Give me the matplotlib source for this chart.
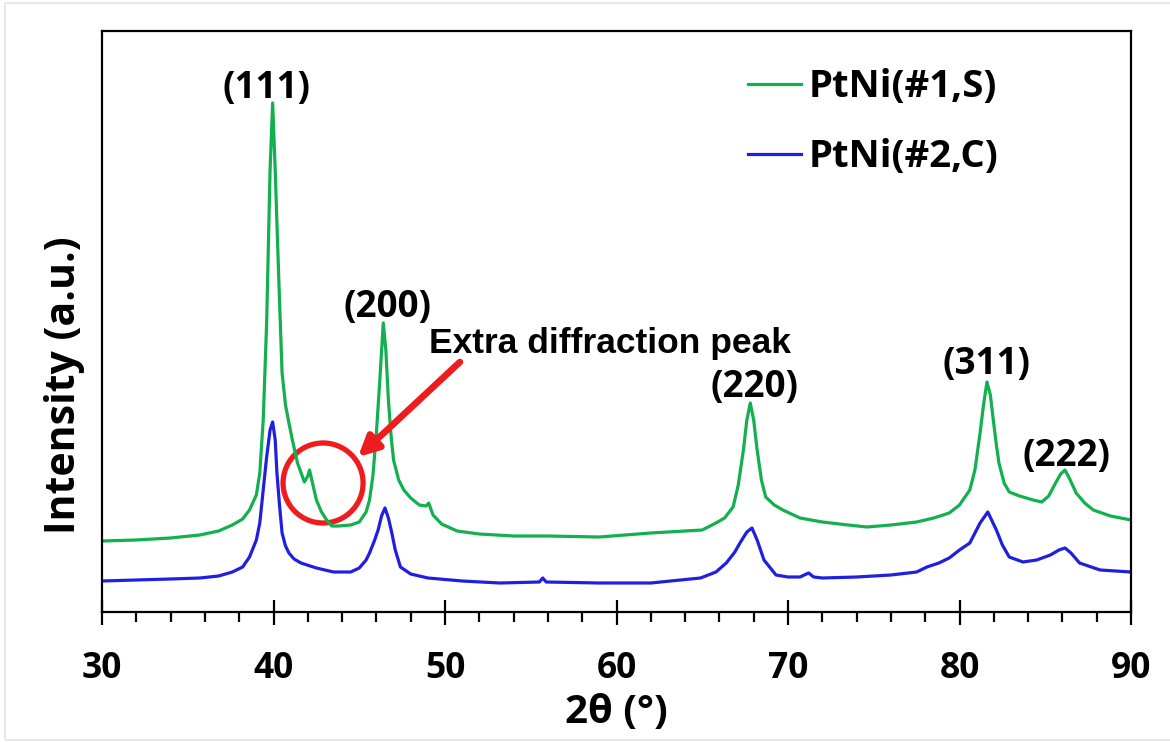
import matplotlib.pyplot as plt
from matplotlib.patches import Ellipse, Rectangle
from matplotlib.ticker import MultipleLocator

# ---- data (2theta in degrees, intensity in a.u.) ----
green_x = [30.0, 32.0, 34.0, 35.7, 36.8, 37.6, 38.2, 38.6, 39.0, 39.2, 39.4, 39.6,
           39.8, 39.95, 40.1, 40.2, 40.35, 40.5, 40.7, 40.9, 41.1, 41.4, 41.8, 42.0,
           42.1, 42.3, 42.5, 42.8, 43.1, 43.4, 43.8, 44.5, 45.0, 45.4, 45.6, 45.8,
           46.0, 46.2, 46.4, 46.55, 46.7, 46.85, 47.0, 47.3, 47.6, 48.0, 48.5, 48.9,
           49.05, 49.3, 49.8, 50.7, 52.0, 54.0, 56.0, 59.0, 62.0, 64.0, 65.0, 65.8,
           66.3, 66.8, 67.1, 67.4, 67.6, 67.8, 68.0, 68.2, 68.45, 68.7, 69.2, 69.7,
           70.7, 72.0, 73.5, 74.6, 76.0, 77.5, 78.5, 79.4, 80.0, 80.6, 80.9, 81.2,
           81.4, 81.6, 81.8, 81.95, 82.15, 82.3, 82.6, 82.9, 83.5, 84.3, 84.8, 85.2,
           85.6, 85.9, 86.15, 86.4, 86.8, 87.3, 87.8, 88.8, 90.0]
green_y = [71, 72, 74, 77, 81, 87, 93, 102, 117, 139, 192, 289,
           442, 509, 442, 389, 312, 239, 207, 189, 172, 149, 130, 136,
           142, 127, 112, 100, 92, 86, 86, 87, 90, 100, 112, 137,
           179, 232, 289, 262, 212, 177, 152, 132, 122, 114, 107, 106,
           109, 97, 88, 81, 78, 76, 76, 75, 79, 81, 82, 89,
           94, 105, 127, 162, 192, 209, 192, 162, 132, 115, 107, 102,
           94, 90, 87, 85, 87, 90, 94, 99, 107, 122, 142, 179,
           207, 230, 217, 195, 167, 149, 129, 120, 116, 112, 110, 116,
           129, 138, 142, 134, 119, 109, 102, 96, 92]

blue_x = [30.0, 32.0, 34.0, 35.7, 36.8, 37.6, 38.2, 38.6, 39.0, 39.2, 39.4, 39.6,
          39.8, 39.95, 40.1, 40.2, 40.35, 40.5, 40.7, 40.9, 41.2, 41.6, 42.5, 43.5,
          44.5, 45.0, 45.4, 45.6, 45.9, 46.1, 46.3, 46.5, 46.7, 46.9, 47.1, 47.4,
          48.0, 49.0, 51.0, 53.2, 55.5, 55.7, 55.9, 59.0, 62.0, 64.9, 65.8, 66.4,
          66.9, 67.2, 67.6, 67.9, 68.2, 68.6, 69.3, 70.0, 70.7, 71.2, 71.5, 72.0,
          74.0, 76.0, 77.5, 78.1, 78.8, 79.4, 80.0, 80.6, 81.2, 81.65, 82.15, 82.5,
          82.9, 83.7, 84.5, 85.3, 85.8, 86.15, 86.5, 87.0, 88.2, 90.0]
blue_y = [31, 32, 33, 34, 36, 40, 45, 55, 72, 89, 122, 155,
          182, 190, 172, 139, 107, 79, 66, 59, 53, 49, 44, 40,
          40, 44, 52, 59, 72, 82, 96, 104, 94, 79, 62, 45,
          38, 34, 31, 29, 30, 34, 30, 29, 29, 34, 40, 49,
          60, 69, 80, 84, 72, 52, 37, 35, 35, 39, 35, 34,
          35, 37, 40, 45, 49, 54, 62, 69, 89, 100, 82, 67,
          55, 50, 52, 57, 62, 64, 59, 49, 42, 40]

series_labels = ['PtNi(#1,S)', 'PtNi(#2,C)']
peak_labels = ['(111)', '(200)', '(220)', '(311)', '(222)']
peak_label_x = [39.62, 46.62, 68.02, 81.55, 86.21]
peak_label_y = [524, 305, 225, 248, 156]

GREEN = '#12b04f'
BLUE = '#1f1fe0'
RED = '#ee1c1c'
FONT = 'Open Sans'

fig = plt.figure(figsize=(11.7, 7.42), dpi=100)
ax = fig.add_axes([102 / 1170, 130 / 742, 1029 / 1170, 581 / 742])

# faint frame around the whole picture
fig.add_artist(Rectangle((5 / 1170, 2 / 742), 1.2, 737 / 742, transform=fig.transFigure,
                         fill=False, edgecolor='#e4e4e4', lw=1.2))

ax.plot(green_x, green_y, color=GREEN, lw=2.3, label=series_labels[0])
ax.plot(blue_x, blue_y, color=BLUE, lw=2.3, label=series_labels[1])

ax.set_xlim(30, 90)
ax.set_ylim(0, 581)
ax.set_yticks([])
ax.xaxis.set_major_locator(MultipleLocator(10))
ax.xaxis.set_minor_locator(MultipleLocator(2))
ax.tick_params(axis='x', which='major', direction='inout', length=18, width=1.6, pad=19)
ax.tick_params(axis='x', which='minor', direction='out', length=7, width=1.6)
for s in ax.spines.values():
    s.set_linewidth(1.6)

for lab in ax.get_xticklabels():
    lab.set_fontfamily(FONT)
    lab.set_fontweight('bold')
    lab.set_fontsize(25.5)

ax.set_xlabel('2θ (°)', fontfamily=FONT, fontweight='bold', fontsize=29)
ax.xaxis.set_label_coords(0.5, -0.14)
ax.set_ylabel('Intensity (a.u.)', fontfamily=FONT, fontweight='bold', fontsize=29.5)
ax.yaxis.set_label_coords(-0.017, 0.39)

for txt, px, py in zip(peak_labels, peak_label_x, peak_label_y):
    ax.text(px, py, txt, ha='center', va='center', fontfamily=FONT,
            fontweight='bold', fontsize=26.5)

# annotation of the extra peak
ax.add_patch(Ellipse((42.89, 129), 80 / 17.15, 80, fill=False, edgecolor=RED, lw=3.8))
ax.annotate('', xy=(44.93, 155), xytext=(50.87, 250),
            arrowprops=dict(arrowstyle='-|>,head_length=1.2,head_width=0.6',
                            color=RED, lw=4.8, shrinkA=0, shrinkB=0))
ax.text(59.6, 268, 'Extra diffraction peak', ha='center', va='center',
        fontfamily='Liberation Sans', fontweight='bold', fontsize=25.5)

leg = ax.legend(loc='upper left', bbox_to_anchor=(0.628, 0.936), frameon=False,
                borderpad=0, borderaxespad=0, handlelength=1.39, handletextpad=0.19,
                labelspacing=0.83, prop={'family': FONT, 'weight': 'bold', 'size': 27.5})

fig.savefig('out.png', dpi=100)
